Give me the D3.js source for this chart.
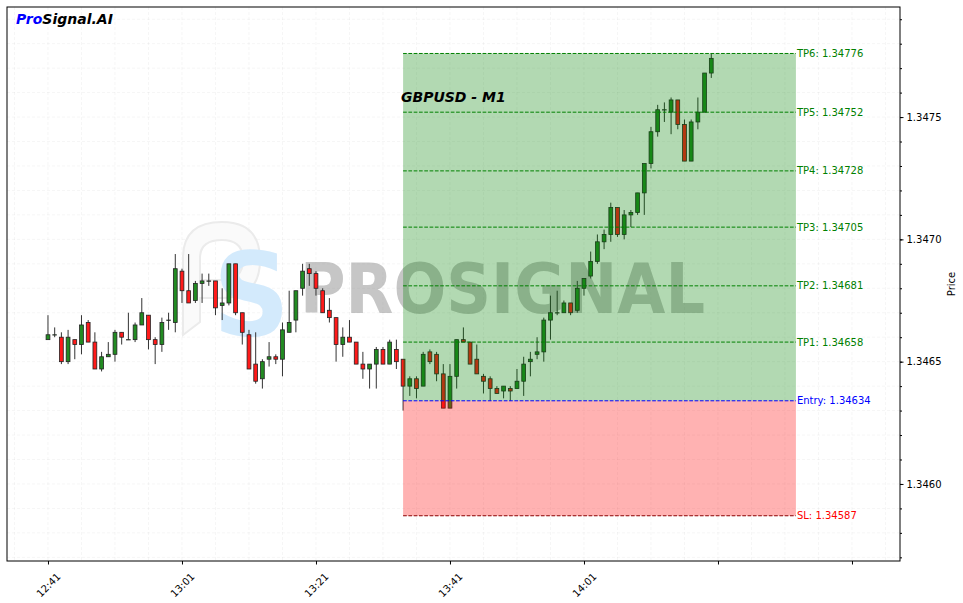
<!DOCTYPE html>
<html><head><meta charset="utf-8">
<script src="https://cdn.jsdelivr.net/npm/d3@7"></script>
<style>body{margin:0;background:#fff}svg{display:block}text{font-family:"DejaVu Sans",sans-serif}</style>
</head><body><svg id="c" width="963" height="603"></svg>
<script>
const times=["12:41","12:42","12:43","12:44","12:45","12:46","12:47","12:48","12:49","12:50","12:51","12:52","12:53","12:54","12:55","12:56","12:57","12:58","12:59",
"13:00","13:01","13:02","13:03","13:04","13:05","13:06","13:07","13:08","13:09","13:10","13:11","13:12","13:13","13:14","13:15","13:16","13:17","13:18","13:19","13:20",
"13:21","13:22","13:23","13:24","13:25","13:26","13:27","13:28","13:29","13:30","13:31","13:32","13:33","13:34","13:35","13:36","13:37","13:38","13:39","13:40",
"13:41","13:42","13:43","13:44","13:45","13:46","13:47","13:48","13:49","13:50","13:51","13:52","13:53","13:54","13:55","13:56","13:57","13:58","13:59",
"14:00","14:01","14:02","14:03","14:04","14:05","14:06","14:07","14:08","14:09","14:10","14:11","14:12","14:13","14:14","14:15","14:16","14:17","14:18","14:19","14:20"];
const opens=[1.34659,1.34661,1.34660,1.34650,1.34659,1.34657,1.34666,1.34658,1.34647,1.34652,1.34653,1.34662,1.34659,1.34659,1.34665,1.34669,1.34659,1.34657,1.34667,1.34666,
1.34687,1.34679,1.34675,1.34682,1.34683,1.34683,1.34673,1.34674,1.34690,1.34670,1.34661,1.34649,1.34643,1.34651,1.34652,1.34651,1.34662,1.34667,1.34680,1.34688,
1.34686,1.34679,1.34671,1.34668,1.34657,1.34660,1.34658,1.34649,1.34647,1.34649,1.34655,1.34649,1.34655,1.34651,1.34640,1.34643,1.34640,1.34654,1.34653,1.34645,
1.34631,1.34644,1.34659,1.34658,1.34651,1.34644,1.34643,1.34639,1.34638,1.34639,1.34639,1.34642,1.34650,1.34653,1.34654,1.34667,1.34670,1.34670,1.34674,1.34671,
1.34680,1.34685,1.34691,1.34699,1.34702,1.34713,1.34702,1.34710,1.34711,1.34719,1.34731,1.34744,1.34753,1.34752,1.34757,1.34747,1.34732,1.34748,1.34752,1.34768];
const highs=[1.34669,1.34664,1.34662,1.34663,1.34659,1.34669,1.34667,1.34662,1.34654,1.34658,1.34663,1.34662,1.34670,1.34666,1.34676,1.34669,1.34660,1.34668,1.34670,1.34694,
1.34688,1.34694,1.34683,1.34686,1.34686,1.34683,1.34680,1.34690,1.34690,1.34670,1.34663,1.34662,1.34651,1.34658,1.34653,1.34666,1.34679,1.34679,1.34690,1.34690,
1.34687,1.34680,1.34676,1.34668,1.34664,1.34667,1.34658,1.34654,1.34649,1.34656,1.34656,1.34659,1.34659,1.34651,1.34644,1.34644,1.34654,1.34655,1.34654,1.34649,
1.34649,1.34659,1.34664,1.34658,1.34657,1.34645,1.34644,1.34640,1.34640,1.34640,1.34647,1.34652,1.34654,1.34660,1.34668,1.34677,1.34679,1.34675,1.34674,1.34683,
1.34684,1.34695,1.34702,1.34704,1.34715,1.34713,1.34712,1.34712,1.34719,1.34731,1.34746,1.34755,1.34756,1.34758,1.34757,1.34749,1.34749,1.34758,1.34768,1.34776];
const lows=[1.34659,1.34660,1.34649,1.34649,1.34651,1.34653,1.34658,1.34647,1.34646,1.34652,1.34650,1.34657,1.34659,1.34658,1.34665,1.34655,1.34649,1.34654,1.34663,1.34662,
1.34674,1.34674,1.34674,1.34674,1.34681,1.34669,1.34667,1.34673,1.34669,1.34657,1.34647,1.34641,1.34639,1.34648,1.34649,1.34644,1.34662,1.34662,1.34677,1.34681,
1.34677,1.34670,1.34666,1.34650,1.34652,1.34658,1.34649,1.34643,1.34639,1.34639,1.34649,1.34649,1.34647,1.34630,1.34636,1.34635,1.34640,1.34649,1.34642,1.34631,
1.34631,1.34639,1.34658,1.34649,1.34645,1.34637,1.34634,1.34637,1.34635,1.34634,1.34639,1.34636,1.34644,1.34651,1.34650,1.34659,1.34669,1.34670,1.34669,1.34670,
1.34677,1.34684,1.34690,1.34696,1.34699,1.34701,1.34700,1.34705,1.34710,1.34710,1.34729,1.34742,1.34748,1.34743,1.34745,1.34732,1.34732,1.34745,1.34752,1.34766];
const closes=[1.34661,1.34661,1.34650,1.34660,1.34657,1.34665,1.34658,1.34647,1.34652,1.34653,1.34662,1.34660,1.34659,1.34665,1.34670,1.34659,1.34657,1.34666,1.34667,1.34688,
1.34679,1.34674,1.34682,1.34683,1.34683,1.34672,1.34674,1.34690,1.34670,1.34662,1.34647,1.34642,1.34650,1.34652,1.34651,1.34663,1.34666,1.34679,1.34687,1.34686,
1.34680,1.34670,1.34668,1.34657,1.34660,1.34658,1.34649,1.34647,1.34649,1.34655,1.34649,1.34658,1.34650,1.34640,1.34643,1.34639,1.34653,1.34650,1.34645,1.34631,
1.34644,1.34659,1.34658,1.34649,1.34645,1.34642,1.34639,1.34637,1.34640,1.34638,1.34642,1.34649,1.34651,1.34654,1.34667,1.34670,1.34670,1.34674,1.34670,1.34680,
1.34684,1.34691,1.34699,1.34702,1.34713,1.34702,1.34710,1.34711,1.34719,1.34731,1.34744,1.34753,1.34753,1.34757,1.34747,1.34732,1.34748,1.34752,1.34768,1.34774];

const tpLevels=[1.34658,1.34681,1.34705,1.34728,1.34752,1.34776];
const tpNames=["TP1","TP2","TP3","TP4","TP5","TP6"];
const entry=1.34634, stopLoss=1.34587;
const zoneStart="13:34", zoneEnd="14:32:38";
const xDomain=["12:34:53","14:48:10"];
const yDomain=[1.345685,1.34795];
const xMajorTicks=["12:41","13:01","13:21","13:41","14:01","14:21","14:41"];
const xTickLabels=["12:41","13:01","13:21","13:41","14:01"];
const yMajorTicks=[1.3460,1.3465,1.3470,1.3475];
const title="GBPUSD - M1";

const parseT=s=>{const p=s.split(':').map(Number);return new Date(2024,0,1,p[0],p[1],p[2]||0);};
const L=7,T=7,R=900,B=561;
const svg=d3.select("#c");
const x=d3.scaleTime().domain(xDomain.map(parseT)).range([L,R]);
const y=d3.scaleLinear().domain(yDomain).range([B,T]);

const xMinor=d3.timeMinute.range(parseT("12:36"),parseT("14:47"),5);
const yMinor=d3.range(13457,13480).map(v=>v/10000);

svg.append("rect").attr("width",963).attr("height",603).attr("fill","#fff");
svg.append("defs").append("clipPath").attr("id","pc").append("rect").attr("x",L).attr("y",T).attr("width",R-L).attr("height",B-T);
const g=svg.append("g").attr("clip-path","url(#pc)");

// grid
g.selectAll(".gx").data(xMinor).join("line").attr("x1",d=>x(d)).attr("x2",d=>x(d)).attr("y1",T).attr("y2",B)
 .attr("stroke","#000").attr("stroke-opacity",0.04).attr("stroke-dasharray","3,2");
g.selectAll(".gy").data(yMinor).join("line").attr("y1",d=>y(d)).attr("y2",d=>y(d)).attr("x1",L).attr("x2",R)
 .attr("stroke","#000").attr("stroke-opacity",0.04).attr("stroke-dasharray","3,2");

// watermark logo
const wm=g.append("g");
wm.append("path").attr("d","M183,335 L183,258 Q183,222 222,222 Q260,222 260,260 Q260,298 222,298 L200,298 L200,322 Z M200,258 Q200,240 222,240 Q243,240 243,260 Q243,280 222,280 L200,280 Z")
 .attr("fill","#fafafa").attr("fill-rule","evenodd").attr("stroke","#ebebeb").attr("stroke-width",2);
wm.append("text").attr("x",213).attr("y",335).attr("font-size",116).attr("font-weight","bold")
 .attr("fill","#d3eafc").attr("transform","translate(213,335) scale(0.92,1) translate(-213,-335)").text("S");
wm.append("text").attr("x",300).attr("y",313).attr("font-size",70).attr("font-weight","bold")
 .attr("fill","#808080").attr("fill-opacity",0.45).attr("textLength",405).attr("lengthAdjust","spacingAndGlyphs").text("PROSIGNAL");

// candles
const data=times.map((t,i)=>({t:parseT(t),o:opens[i],h:highs[i],l:lows[i],c:closes[i]}));
const cg=g.append("g");
cg.selectAll(".w").data(data).join("line").attr("x1",d=>x(d.t)).attr("x2",d=>x(d.t))
 .attr("y1",d=>y(d.h)).attr("y2",d=>y(d.l)).attr("stroke","#333").attr("stroke-width",1);
cg.selectAll(".b").data(data).join("rect").attr("x",d=>x(d.t)-1.9).attr("width",3.8)
 .attr("y",d=>y(Math.max(d.o,d.c))).attr("height",d=>Math.max(0.3,Math.abs(y(d.o)-y(d.c))))
 .attr("fill",d=>d.c>=d.o?"#228b22":"#ff1a1a").attr("stroke","#222").attr("stroke-width",0.8);

// zones
const zx0=x(parseT(zoneStart)), zx1=x(parseT(zoneEnd));
g.append("rect").attr("x",zx0).attr("width",zx1-zx0).attr("y",y(tpLevels[5])).attr("height",y(entry)-y(tpLevels[5]))
 .attr("fill","green").attr("fill-opacity",0.3);
g.append("rect").attr("x",zx0).attr("width",zx1-zx0).attr("y",y(entry)).attr("height",y(stopLoss)-y(entry))
 .attr("fill","red").attr("fill-opacity",0.3);

// levels
const lv=svg.append("g");
const lines=tpLevels.map((v,i)=>({v,label:tpNames[i]+": "+v.toFixed(5),col:"green",tc:"green"}))
 .concat([{v:entry,label:"Entry: "+entry.toFixed(5),col:"blue",tc:"blue"},{v:stopLoss,label:"SL: "+stopLoss.toFixed(5),col:"#8b0000",tc:"red"}]);
lv.selectAll("line").data(lines).join("line").attr("x1",zx0).attr("x2",zx1).attr("y1",d=>y(d.v)).attr("y2",d=>y(d.v))
 .attr("stroke",d=>d.col).attr("stroke-width",1).attr("stroke-dasharray","3.7,1.6");
lv.selectAll("text").data(lines).join("text").attr("x",zx1+1).attr("y",d=>y(d.v)).attr("dy","0.35em")
 .attr("font-size",10).attr("fill",d=>d.tc).text(d=>d.label);

// title
svg.append("text").attr("x",401).attr("y",102).attr("font-size",14).attr("font-weight","bold").attr("font-style","italic").text(title);
const brand=svg.append("text").attr("x",16).attr("y",24).attr("font-size",14).attr("font-weight","bold").attr("font-style","italic");
brand.append("tspan").attr("fill","blue").text("Pro");
brand.append("tspan").attr("fill","#000").text("Signal.AI");

// frame
svg.append("rect").attr("x",L).attr("y",T).attr("width",R-L).attr("height",B-T).attr("fill","none").attr("stroke","#000").attr("stroke-width",1);

// x axis
const xa=svg.append("g").attr("transform",`translate(0,${B})`);
xa.call(d3.axisBottom(x).tickValues(xMinor).tickSize(2).tickSizeOuter(0).tickFormat(""));
xa.call(d3.axisBottom(x).tickValues(xMajorTicks.map(parseT)).tickSize(3.5).tickSizeOuter(0)
 .tickFormat(d=>{const s=d3.timeFormat("%H:%M")(d);return xTickLabels.includes(s)?s:"";}));
xa.select(".domain").remove();
xa.selectAll("text").attr("y",0).attr("dy","0.35em").attr("transform","translate(0,24) rotate(-45)")
 .attr("text-anchor","middle").attr("font-size",10).attr("font-family","DejaVu Sans").attr("fill","#000");
xa.selectAll("line").attr("stroke","#000");

// y axis
const ya=svg.append("g").attr("transform",`translate(${R},0)`);
ya.call(d3.axisRight(y).tickValues(yMinor).tickSize(2).tickSizeOuter(0).tickFormat(""));
const ya2=svg.append("g").attr("transform",`translate(${R},0)`);
ya2.call(d3.axisRight(y).tickValues(yMajorTicks).tickSize(3.5).tickPadding(3).tickSizeOuter(0).tickFormat(d3.format(".4f")));
ya.select(".domain").remove(); ya2.select(".domain").remove();
ya2.selectAll("text").attr("font-size",10).attr("font-family","DejaVu Sans").attr("fill","#000");
svg.append("text").attr("transform",`translate(955,${(T+B)/2}) rotate(-90)`).attr("text-anchor","middle")
 .attr("font-size",10).text("Price");
</script></body></html>
